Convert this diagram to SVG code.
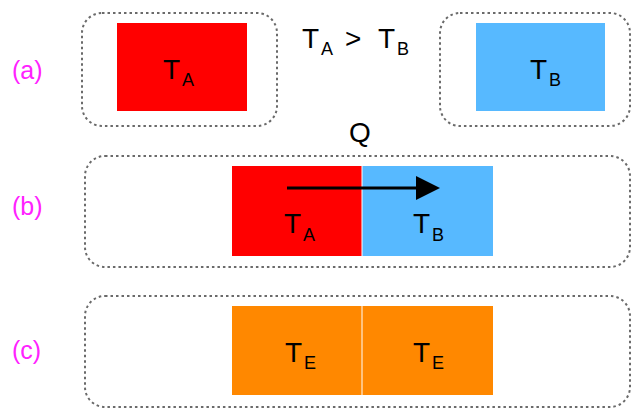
<svg xmlns="http://www.w3.org/2000/svg" width="632" height="409" viewBox="0 0 632 409">
<style>
.frame{fill:none;stroke:#6a6a6a;stroke-width:2;stroke-dasharray:2.5 3}
.lbl{font-family:"Liberation Sans",Arial,sans-serif;font-size:25px;fill:#ff22ff}
.t{font-family:"Liberation Sans",Arial,sans-serif;font-size:28px;fill:#000}
.sub{font-size:18px}
.red{fill:#ff0000}
.blue{fill:#57b9ff}
.orange{fill:#ff8800}
</style>
<defs>
<marker id="ah" markerWidth="8" markerHeight="8" refX="0" refY="4" orient="auto" markerUnits="strokeWidth">
<polygon points="0,0 8,4 0,8" fill="#000"/>
</marker>
</defs>
<rect width="632" height="409" fill="#fff"/>
<g id="labels">
<text class="lbl" x="12" y="79">(a)</text>
<text class="lbl" x="12" y="215">(b)</text>
<text class="lbl" x="12" y="359">(c)</text>
</g>
<g id="a-left">
<rect class="frame" x="82" y="13" width="195" height="113" rx="20"/>
<rect class="red" x="117" y="23" width="130" height="88"/>
<text class="t" x="163" y="79">T<tspan class="sub" dx="2" dy="7">A</tspan></text>
</g>
<g id="a-compare">
<text class="t" x="302" y="48">T<tspan class="sub" x="321" dy="7">A</tspan><tspan x="345" dy="-7">&gt;</tspan><tspan x="378">T</tspan><tspan class="sub" x="397" dy="7">B</tspan></text>
</g>
<g id="a-right">
<rect class="frame" x="440" y="13" width="190" height="113" rx="20"/>
<rect class="blue" x="476" y="23" width="129" height="88"/>
<text class="t" x="530" y="79">T<tspan class="sub" dx="2" dy="7">B</tspan></text>
</g>
<g id="b">
<rect class="frame" x="85" y="156" width="545" height="111" rx="20"/>
<rect class="red" x="232" y="166" width="129.5" height="90"/>
<rect class="blue" x="362.5" y="166" width="130.5" height="90"/>
<text class="t" x="284" y="233">T<tspan class="sub" dx="2" dy="8">A</tspan></text>
<text class="t" x="413" y="233">T<tspan class="sub" dx="2" dy="8">B</tspan></text>
<text class="t" x="360" y="142" text-anchor="middle">Q</text>
</g>
<g id="c">
<rect class="frame" x="85" y="296" width="545" height="111" rx="20"/>
<rect class="orange" x="232" y="306" width="129.5" height="89"/>
<rect class="orange" x="362.5" y="306" width="130.5" height="89"/>
<text class="t" x="285" y="362">T<tspan class="sub" dx="2" dy="7">E</tspan></text>
<text class="t" x="413" y="362">T<tspan class="sub" dx="2" dy="7">E</tspan></text>
</g>
<g id="connectors">
<line x1="287" y1="188" x2="416" y2="188" stroke="#000" stroke-width="3" marker-end="url(#ah)"/>
</g>
</svg>
